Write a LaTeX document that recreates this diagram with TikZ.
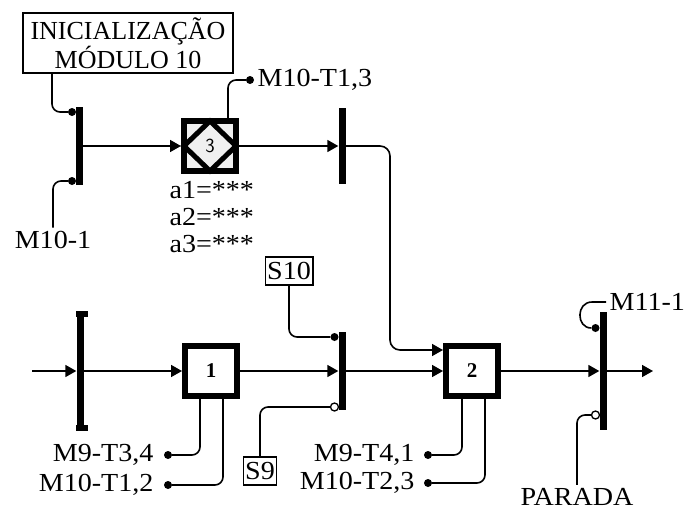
\documentclass[tikz,border=0pt]{standalone}
\usepackage{fontspec}
\setmainfont{Liberation Serif}
\newfontfamily\widefont[FakeStretch=1.08]{Liberation Serif}
\usetikzlibrary{arrows.meta,calc}
\begin{document}
\begin{tikzpicture}[x=1pt,y=-1pt,
  every node/.style={font=\widefont\fontsize{26}{27}\selectfont},
  ln/.style={line width=1.6pt},
  arr/.style={ln,-{Triangle[length=11pt,width=12pt]}},
  bar/.style={fill=black,draw=none,minimum width=7pt,inner sep=0pt},
  blk/.style={draw,line width=6pt,minimum width=52pt,minimum height=50pt,inner sep=0pt,font=\bfseries\fontsize{21}{21}\selectfont},
  lbl/.style={draw,line width=1.3pt,inner sep=2pt,minimum height=28pt},
  dot/.style={circle,fill=black,inner sep=0pt,minimum size=8pt},
  hol/.style={circle,draw,fill=white,line width=1.3pt,inner sep=0pt,minimum size=8pt},
  rc/.style={ln,rounded corners=8pt}
]
\useasboundingbox (0,0) rectangle (684,511);
% ---- top row ----
\node[draw,ln,minimum width=210pt,minimum height=60pt,align=center,inner sep=0pt,font=\rmfamily\fontsize{26}{27}\selectfont] (init) at (128,43) {INICIALIZAÇÃO\\MÓDULO 10};
\node[bar,minimum height=78pt] (b1) at (79,146) {};
\node[dot] (d1a) at (72,112) {};
\node[dot] (d1b) at (72,181) {};
\node (m101) at (53,240) {M10-1};
\draw[rc] ([xshift=-76pt]init.south) |- (d1a);
\draw[rc] (m101.north) |- (d1b);

\node[blk,fill=gray!12] (box3) at (210,146) {};
\draw[line width=5pt,line join=miter] (184,146) -- (210,121) -- (236,146) -- (210,171) -- cycle;
\node[font=\sffamily\fontsize{20}{20}\selectfont] (n3) at (210,146) {3};
\draw[arr] (b1) -- (box3);
\node[dot] (d3) at (250,80) {};
\node[anchor=west] (t3) at (254,80) {M10-T1,3};
\draw[rc] ([xshift=18pt]box3.north) |- (d3);
\node[anchor=base west] (a1) at (166,198) {a1=***};
\node[anchor=base west] (a2) at (166,225) {a2=***};
\node[anchor=base west] (a3) at (166,252) {a3=***};

\node[bar,minimum height=76pt] (b2) at (342,146) {};
\draw[arr] (box3) -- (b2);

% ---- bottom row ----
\coordinate (in) at (32,371);
\node[bar,minimum height=119pt] (b0) at (80,371) {};
\fill (b0.north west) rectangle ++(12,6);
\fill (b0.south west) rectangle ++(12,-6);
\draw[arr] (in) -- (b0);

\node[blk] (box1) at (211,371) {1};
\draw[arr] (b0) -- (box1);
\node[dot] (d11) at (168,455) {};
\node[dot] (d12) at (168,485) {};
\node[anchor=east] (t11) at (157,455) {M9-T3,4};
\node[anchor=east] (t12) at (157,485) {M10-T1,2};
\draw[rc] ([xshift=-11pt]box1.south) |- (d11);
\draw[rc] ([xshift=12pt]box1.south) |- (d12);

\node[bar,minimum height=78pt] (b3) at (342,371) {};
\draw[arr] (box1) -- (b3);
\node[lbl] (s10) at (289,271) {S10};
\node[dot] (d5) at (334.5,337) {};
\draw[rc] (s10.south) |- (d5);
\node[lbl] (s9) at (260,471) {S9};
\node[hol] (h3) at (334.5,407) {};
\draw[rc] (s9.north) |- (h3);

\node[blk] (box2) at (472,371) {2};
\draw[arr] (b3) -- (box2);
\draw[arr,rounded corners=10pt] (b2.east) -- (390,146) |- ([yshift=21pt]box2.west);
\node[dot] (d21) at (428,455) {};
\node[dot] (d22) at (428,483) {};
\node[anchor=east] (t21) at (418,455) {M9-T4,1};
\node[anchor=east] (t22) at (418,483) {M10-T2,3};
\draw[rc] ([xshift=-10pt]box2.south) |- (d21);
\draw[rc] ([xshift=13pt]box2.south) |- (d22);

\node[bar,minimum height=118pt] (b4) at (603,371) {};
\draw[arr] (box2) -- (b4);
\coordinate (out) at (653,371);
\draw[arr] (b4) -- (out);
\node[dot] (d41) at (595.5,328) {};
\node[anchor=west] (t41) at (606,302) {M11-1};
\draw[ln] (t41.west) -- (592,302) .. controls (576,302) and (576,328) .. (d41);
\node[hol] (h4) at (595.5,415) {};
\node (par) at (577,497) {PARADA};
\draw[rc] (par.north) |- (h4);
\end{tikzpicture}
\end{document}
